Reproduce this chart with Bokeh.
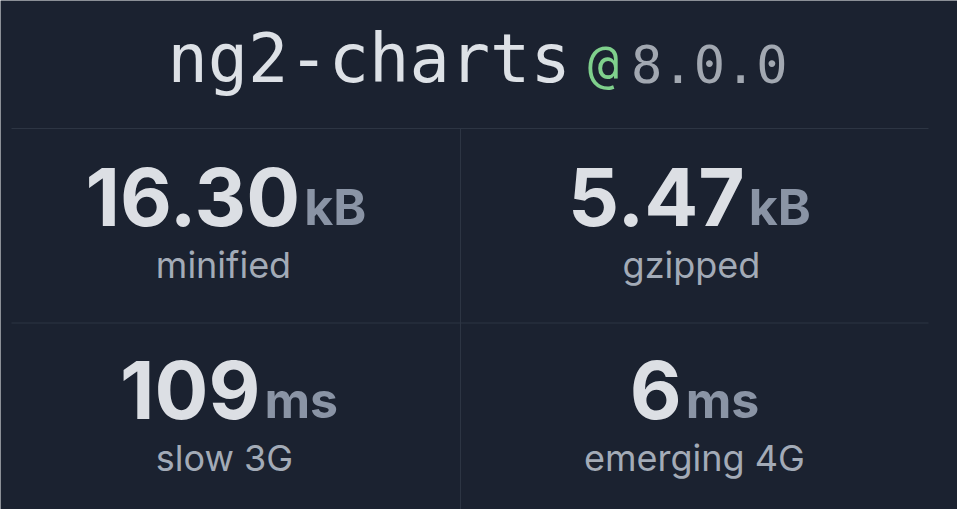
from bokeh.plotting import figure
from bokeh.models import Range1d, ColumnDataSource
from bokeh.core.properties import value
from bokeh.embed import file_html
from bokeh.resources import INLINE

# ---- data ----
package_name = "ng2-charts"
package_version = "8.0.0"
stat_values = ["16.30", "5.47", "109", "6"]
stat_units = ["kB", "kB", "ms", "ms"]
stat_labels = ["minified", "gzipped", "slow 3G", "emerging 4G"]

# ---- style ----
BG = "#1b2230"
LINE = "#2d3543"
TITLE_C = "#dde1e6"
AT_C = "#7fd08c"
VER_C = "#a2a8b1"
NUM_C = "#dcdfe4"
UNIT_C = "#8a94a5"
LABEL_C = "#a3abb7"

W, H = 973, 525
p = figure(width=W - 16, height=H - 16, output_backend="svg", toolbar_location=None,
           x_range=Range1d(8, W - 8), y_range=Range1d(H - 8, 8),
           min_border=0)
p.axis.visible = False
p.grid.visible = False
p.outline_line_color = None
p.background_fill_color = BG
p.border_fill_color = BG

# separators
p.segment(x0=[19, 19, 468], y0=[136, 330.5, 136], x1=[936, 936, 468], y1=[136, 330.5, H],
          line_color=LINE, line_width=1)

K = 0.35  # baseline correction (fraction of font size)

# title
mono = "DejaVu Sans Mono"
ts, ats, vs = 67, 52, 52
adv = 0.602
w_name = len(package_name) * adv * ts
w_at = adv * ats
w_ver = len(package_version) * adv * vs
g1, g2 = 17, 12
total = w_name + g1 + w_at + g2 + w_ver
x0 = 485 - total / 2
ty = 90
p.text(x=[x0], y=[ty - K * ts], text=[package_name], text_font=value(mono), text_font_size=f"{ts}px",
       text_color=TITLE_C, text_align="left", text_baseline="alphabetic")
p.text(x=[x0 + w_name + g1], y=[ty - K * ats], text=["@"], text_font=value(mono), text_font_size=f"{ats}px",
       text_color=AT_C, text_align="left", text_baseline="alphabetic")
p.text(x=[x0 + w_name + g1 + w_at + g2], y=[ty - K * vs], text=[package_version], text_font=value(mono),
       text_font_size=f"{vs}px", text_color=VER_C, text_align="left", text_baseline="alphabetic")

# stats
num_size, unit_size, lab_size = 80, 50, 36
cw_num = {".": 0.27}
cw_unit = {"k": 0.55, "B": 0.64, "m": 0.87, "s": 0.54}

def wnum(s):
    return sum(cw_num.get(c, 0.585) for c in s) * num_size

def wunit(s):
    return sum(cw_unit.get(c, 0.6) for c in s) * unit_size

col_cx = [235, 703, 235, 703]
lab_cx = [231, 699, 232, 702]
num_base = [232, 232, 425, 425]
lab_base = [285, 285, 478, 478]
gap = 4
split = []
for v, u, cx in zip(stat_values, stat_units, col_cx):
    tw = wnum(v) + gap + wunit(u)
    split.append(cx - tw / 2 + wnum(v))

src = ColumnDataSource(dict(v=stat_values, u=stat_units, l=stat_labels,
                            xs=split, xu=[s + gap for s in split], cx=lab_cx,
                            nb=[b - K * num_size for b in num_base],
                            ub=[b - K * unit_size for b in num_base],
                            lb=[b - K * lab_size for b in lab_base]))
p.text(x="xs", y="nb", text="v", source=src, text_font=value("Inter"), text_font_style="bold",
       text_font_size=f"{num_size}px", text_color=NUM_C, text_align="right", text_baseline="alphabetic")
p.text(x="xu", y="ub", text="u", source=src, text_font=value("Inter"), text_font_style="bold",
       text_font_size=f"{unit_size}px", text_color=UNIT_C, text_align="left", text_baseline="alphabetic")
p.text(x="cx", y="lb", text="l", source=src, text_font=value("Inter"),
       text_font_size=f"{lab_size}px", text_color=LABEL_C, text_align="center", text_baseline="alphabetic")

open("out.html", "w").write(file_html(p, INLINE))
